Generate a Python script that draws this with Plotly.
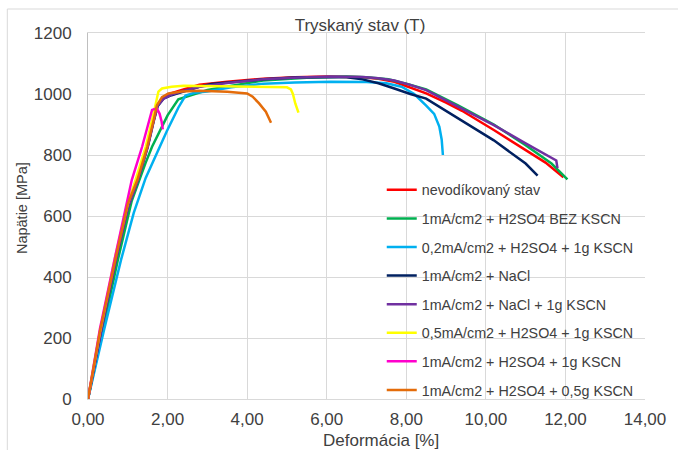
import plotly.graph_objects as go

# ---------------- data ----------------
names = [
    "nevodíkovaný stav",
    "1mA/cm2 + H2SO4 BEZ KSCN",
    "0,2mA/cm2 + H2SO4 + 1g KSCN",
    "1mA/cm2 + NaCl",
    "1mA/cm2 + NaCl + 1g KSCN",
    "0,5mA/cm2 + H2SO4 + 1g KSCN",
    "1mA/cm2 + H2SO4 + 1g KSCN",
    "1mA/cm2 + H2SO4 + 0,5g KSCN",
]
colors = ["#FF0000", "#00B050", "#00B0F0", "#002060", "#7030A0", "#FFFF00", "#FF00CC", "#E46C0A"]

red_x = [0, 0.35, 0.7, 1.0, 1.25, 1.5, 1.65, 1.75, 1.9, 2.1, 2.4, 2.8, 3.5, 4.4, 5.2, 6.0, 6.9, 7.3, 7.7, 8.1, 8.5, 9.0, 9.4, 10.2, 11.0, 11.5, 11.95]
red_y = [0, 240, 460, 630, 720, 830, 915, 965, 990, 1003, 1015, 1030, 1040, 1050, 1055, 1057, 1055, 1050, 1040, 1022, 1002, 972, 945, 882, 815, 775, 727]

green_x = [0, 0.35, 0.75, 1.1, 1.32, 1.45, 1.61, 1.86, 2.0, 2.27, 2.47, 2.76, 3.0, 3.5, 4.4, 5.5, 6.5, 7.0, 7.55, 8.0, 8.5, 9.3, 10.2, 11.0, 11.65, 12.05]
green_y = [0, 215, 456, 650, 730, 775, 827, 890, 930, 983, 991, 1004, 1013, 1025, 1044, 1053, 1057, 1055, 1048, 1034, 1015, 963, 900, 832, 772, 720]

cyan_x = [0, 0.4, 0.83, 1.15, 1.45, 1.7, 1.98, 2.27, 2.45, 2.68, 3.0, 3.6, 4.4, 5.2, 6.1, 7.0, 7.5, 7.88, 8.2, 8.5, 8.7, 8.83, 8.89, 8.92]
cyan_y = [0, 225, 456, 610, 725, 800, 878, 955, 995, 1004, 1008, 1022, 1034, 1038, 1040, 1039, 1035, 1024, 1000, 962, 935, 893, 850, 800]

navy_x = [0, 0.35, 0.7, 1.0, 1.25, 1.5, 1.65, 1.75, 1.9, 2.1, 2.4, 2.8, 3.1, 4.4, 5.3, 6.5, 6.9, 7.3, 7.7, 8.1, 8.5, 9.3, 10.2, 11.0, 11.3]
navy_y = [0, 238, 458, 628, 718, 828, 912, 960, 985, 996, 1008, 1024, 1033, 1048, 1055, 1055, 1048, 1035, 1018, 1000, 985, 920, 848, 772, 732]

purple_x = [0, 0.35, 0.7, 1.0, 1.25, 1.5, 1.65, 1.75, 1.9, 2.1, 2.4, 2.8, 3.5, 4.4, 5.3, 6.1, 6.9, 7.3, 7.7, 8.1, 8.5, 9.3, 10.2, 11.0, 11.4, 11.65, 11.77, 11.8]
purple_y = [0, 235, 455, 625, 715, 825, 910, 962, 985, 998, 1010, 1024, 1036, 1048, 1054, 1057, 1056, 1052, 1044, 1030, 1013, 958, 898, 838, 808, 792, 782, 757]

yellow_x = [0, 0.3, 0.68, 1.0, 1.2, 1.45, 1.65, 1.77, 1.86, 2.1, 2.4, 3.0, 4.0, 4.8, 5.0, 5.1, 5.15, 5.21, 5.29]
yellow_y = [0, 220, 465, 640, 720, 827, 937, 1008, 1018, 1024, 1027, 1026, 1025, 1023, 1022, 1015, 1000, 969, 939]

magenta_x = [0, 0.3, 0.665, 0.9, 1.1, 1.36, 1.53, 1.61, 1.73, 1.8, 1.85, 1.88]
magenta_y = [0, 230, 456, 600, 718, 827, 904, 948, 953, 935, 910, 884]

orange_x = [0, 0.3, 0.7, 1.0, 1.24, 1.49, 1.65, 1.73, 1.86, 2.02, 2.35, 2.8, 3.5, 4.0, 4.14, 4.3, 4.47, 4.6]
orange_y = [0, 222, 465, 640, 718, 827, 915, 962, 990, 1002, 1008, 1011, 1007, 1002, 991, 969, 942, 906]

series_x = [red_x, green_x, cyan_x, navy_x, purple_x, yellow_x, magenta_x, orange_x]
series_y = [red_y, green_y, cyan_y, navy_y, purple_y, yellow_y, magenta_y, orange_y]

x_ticks = [0, 2, 4, 6, 8, 10, 12, 14]
y_ticks = [0, 200, 400, 600, 800, 1000, 1200]

# ---------------- figure ----------------
FONT = "Liberation Sans, Arial, sans-serif"
W, H = 678, 450
L, R, T, B = 88, 24, 33, 51
pw, ph = W - L - R, H - T - B

def px2x(px):
    return (px - L) / pw

def py2y(py):
    return (H - B - py) / ph

fig = go.Figure()
for i, (n, c) in enumerate(zip(names, colors)):
    fig.add_trace(go.Scatter(
        x=series_x[i], y=series_y[i], name=n, mode="lines",
        line=dict(color=c, width=2.5), legendgroup=f"g{i}",
    ))

grid = "#D9D9D9"
fig.update_layout(
    width=W, height=H,
    margin=dict(l=L, r=R, t=T, b=B),
    paper_bgcolor="white", plot_bgcolor="white",
    separators=", ",
    font=dict(family=FONT, size=17, color="#404040"),
    title=dict(text="Tryskaný stav (T)", x=360 / W, xref="container", xanchor="center",
               y=1 - 25 / H, yref="container", yanchor="middle",
               font=dict(family=FONT, size=17, color="#404040")),
    xaxis=dict(range=[0, 14], tickvals=x_ticks, tickformat=".2f", showgrid=True,
               gridcolor=grid, gridwidth=1, showline=True, linecolor=grid, mirror=True,
               zeroline=False, ticks="", ticklabelstandoff=5,
               tickfont=dict(family=FONT, size=17, color="#404040")),
    yaxis=dict(range=[0, 1200], tickvals=y_ticks, tickformat="d", showgrid=True,
               gridcolor=grid, gridwidth=1, showline=True, linecolor="#BFBFBF", mirror=False,
               zeroline=False, ticks="", ticklabelstandoff=12,
               tickfont=dict(family=FONT, size=17, color="#404040")),
    legend=dict(x=px2x(386.5), y=py2y(174), xanchor="left", yanchor="top",
                bgcolor="rgba(0,0,0,0)", borderwidth=0, tracegroupgap=7,
                font=dict(family=FONT, size=14.3, color="#404040")),
    showlegend=True,
)

fig.add_annotation(text="Deformácia [%]", x=px2x(386), y=py2y(441), xref="paper", yref="paper",
                   showarrow=False, xanchor="center", yanchor="middle",
                   font=dict(family=FONT, size=17, color="#404040"))
fig.add_annotation(text="Napätie [MPa]", x=px2x(21), y=py2y(208), xref="paper", yref="paper",
                   showarrow=False, xanchor="center", yanchor="middle", textangle=-90,
                   font=dict(family=FONT, size=14.5, color="#404040"))

# outer chart border (top and left visible)
fig.add_shape(type="rect", xref="paper", yref="paper",
              x0=px2x(6), x1=px2x(700), y0=py2y(470), y1=py2y(9),
              line=dict(color=grid, width=1), fillcolor="rgba(0,0,0,0)", layer="below")

fig.write_html(
    "out.html",
    config={"displayModeBar": False},
    post_script="document.body.style.margin='0';document.body.style.overflow='hidden';",
)
